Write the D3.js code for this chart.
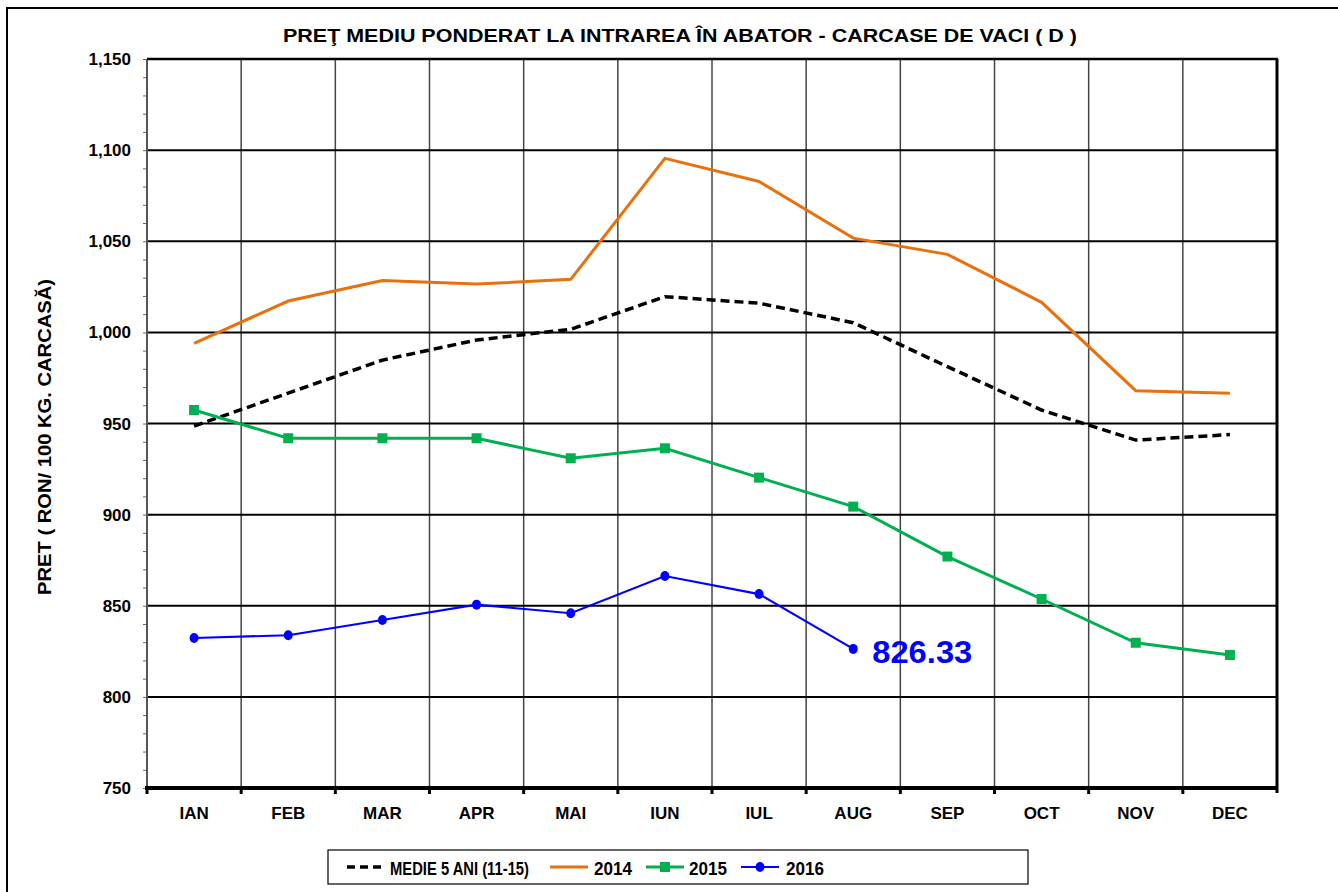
<!DOCTYPE html>
<html lang="en">
<head>
<meta charset="utf-8">
<title>Pret mediu ponderat</title>
<script src="https://d3js.org/d3.v7.min.js"></script>
<style>
  body { margin: 0; background: #fff; }
  text { font-family: "Liberation Sans", Arial, sans-serif; font-weight: bold; fill: #000; }
</style>
</head>
<body>
<div id="chart"></div>
<script>
const w = 1338, h = 892;

const months = ["IAN","FEB","MAR","APR","MAI","IUN","IUL","AUG","SEP","OCT","NOV","DEC"];
const medie5 = [948.6, 966.7, 984.8, 995.8, 1001.7, 1019.6, 1016.0, 1005.3, 981.2, 957.4, 940.9, 943.9];
const y2014  = [994.0, 1017.2, 1028.4, 1026.5, 1029.1, 1095.5, 1082.8, 1051.7, 1042.8, 1016.5, 968.0, 966.6];
const y2015  = [957.4, 941.9, 941.9, 941.9, 930.9, 936.4, 920.3, 904.4, 877.0, 853.7, 829.7, 823.0];
const y2016  = [832.3, 833.8, 842.2, 850.6, 845.9, 866.3, 856.4, 826.33];
const yTicks = [750, 800, 850, 900, 950, 1000, 1050, 1100, 1150];

const m = { left: 147, top: 59, right: 1277, bottom: 788 };

const svg = d3.select("#chart").append("svg")
  .attr("width", w).attr("height", h);

// outer chart border (runs off the picture right and bottom)
svg.append("rect").attr("x", 7).attr("y", 8).attr("width", 1400).attr("height", 1000)
  .attr("fill", "none").attr("stroke", "#000").attr("stroke-width", 2);

const x = d3.scaleBand().domain(months).range([m.left, m.right]);
const y = d3.scaleLinear().domain([750, 1150]).range([m.bottom, m.top]);

// vertical grid at category boundaries
const bounds = months.map(d => x(d)).slice(1);
svg.selectAll(".vgrid").data(bounds).enter().append("line")
  .attr("x1", d => d).attr("x2", d => d)
  .attr("y1", m.top).attr("y2", m.bottom + 5)
  .attr("stroke", "#444").attr("stroke-width", 1.5);

// horizontal grid
svg.selectAll(".hgrid").data(yTicks.slice(1, -1)).enter().append("line")
  .attr("x1", m.left).attr("x2", m.right)
  .attr("y1", d => y(d)).attr("y2", d => y(d))
  .attr("stroke", "#000").attr("stroke-width", 2);

// y axis with minor ticks
const yAxis = d3.axisLeft(y).tickValues(d3.range(750, 1151, 10))
  .tickSize(4).tickFormat("");
const ya = svg.append("g").attr("transform", `translate(${m.left},0)`).call(yAxis);
ya.select(".domain").remove();
ya.selectAll("line").attr("stroke", "#666").attr("stroke-width", 1);
svg.append("line").attr("x1", m.left).attr("x2", m.left)
  .attr("y1", m.top).attr("y2", m.bottom).attr("stroke", "#555").attr("stroke-width", 2);

svg.selectAll(".ylab").data(yTicks).enter().append("text")
  .attr("x", 131).attr("y", d => y(d) + 6)
  .attr("text-anchor", "end").attr("font-size", 17)
  .text(d => d3.format(",")(d));

// frame: top and right
svg.append("line").attr("x1", m.left).attr("x2", m.right + 1)
  .attr("y1", m.top).attr("y2", m.top).attr("stroke", "#000").attr("stroke-width", 2.5);
svg.append("line").attr("x1", m.right).attr("x2", m.right)
  .attr("y1", m.top).attr("y2", m.bottom + 5).attr("stroke", "#000").attr("stroke-width", 3);

// x axis
svg.append("line").attr("x1", m.left - 2).attr("x2", m.right + 1)
  .attr("y1", m.bottom).attr("y2", m.bottom).attr("stroke", "#000").attr("stroke-width", 4);
svg.selectAll(".xtick").data([m.left].concat(bounds)).enter().append("line")
  .attr("x1", d => d).attr("x2", d => d)
  .attr("y1", m.bottom).attr("y2", m.bottom + 6)
  .attr("stroke", "#000").attr("stroke-width", 3);
svg.selectAll(".xlab").data(months).enter().append("text")
  .attr("x", d => x(d) + x.bandwidth() / 2).attr("y", 819)
  .attr("text-anchor", "middle").attr("font-size", 17)
  .text(d => d);

const cx = (d, i) => x(months[i]) + x.bandwidth() / 2;
const line = d3.line().x(cx).y(d => y(d));

svg.append("path").datum(medie5).attr("d", line)
  .attr("fill", "none").attr("stroke", "#000").attr("stroke-width", 3.5)
  .attr("stroke-dasharray", "9,5");
svg.append("path").datum(y2014).attr("d", line)
  .attr("fill", "none").attr("stroke", "#E8710E").attr("stroke-width", 3);
svg.append("path").datum(y2015).attr("d", line)
  .attr("fill", "none").attr("stroke", "#00B050").attr("stroke-width", 3);
svg.selectAll(".m15").data(y2015).enter().append("rect")
  .attr("x", (d, i) => cx(d, i) - 5).attr("y", d => y(d) - 5)
  .attr("width", 10).attr("height", 10).attr("fill", "#00B050");
svg.append("path").datum(y2016).attr("d", line)
  .attr("fill", "none").attr("stroke", "#0000FF").attr("stroke-width", 2.2);
svg.selectAll(".m16").data(y2016).enter().append("ellipse")
  .attr("cx", cx).attr("cy", d => y(d))
  .attr("rx", 4.5).attr("ry", 5).attr("fill", "#0000FF");

// last value label
const last = y2016.length - 1;
svg.append("text")
  .attr("x", cx(y2016[last], last) + 19).attr("y", y(y2016[last]) + 14)
  .attr("font-size", 31).attr("textLength", 100).attr("lengthAdjust", "spacingAndGlyphs")
  .style("fill", "#0000FF")
  .text(d3.format(".2f")(y2016[last]));

// title
svg.append("text").attr("x", 680).attr("y", 42)
  .attr("text-anchor", "middle").attr("font-size", 18)
  .attr("textLength", 794).attr("lengthAdjust", "spacingAndGlyphs")
  .text("PREŢ MEDIU PONDERAT LA INTRAREA ÎN ABATOR - CARCASE DE VACI ( D )");

// y title
svg.append("text")
  .attr("transform", "translate(51,437) rotate(-90)")
  .attr("text-anchor", "middle").attr("font-size", 18)
  .attr("textLength", 316).attr("lengthAdjust", "spacingAndGlyphs")
  .text("PRET ( RON/ 100 KG. CARCASĂ)");

// legend
const lg = svg.append("g");
lg.append("rect").attr("x", 328).attr("y", 850).attr("width", 700).attr("height", 34)
  .attr("fill", "#fff").attr("stroke", "#000").attr("stroke-width", 1.2);
const legendItems = [
  { label: "MEDIE 5 ANI (11-15)", color: "#000", x0: 347, tx: 390, tl: 139, dash: "8,5", mark: null, sw: 3.5 },
  { label: "2014", color: "#E8710E", x0: 550, tx: 594, tl: 38, dash: null, mark: null, sw: 3 },
  { label: "2015", color: "#00B050", x0: 646, tx: 689, tl: 38, dash: null, mark: "sq", sw: 3 },
  { label: "2016", color: "#0000FF", x0: 741, tx: 786, tl: 38, dash: null, mark: "ci", sw: 2.2 }
];
legendItems.forEach(it => {
  lg.append("line").attr("x1", it.x0).attr("x2", it.x0 + 38)
    .attr("y1", 867).attr("y2", 867)
    .attr("stroke", it.color).attr("stroke-width", it.sw)
    .attr("stroke-dasharray", it.dash);
  if (it.mark === "sq") lg.append("rect").attr("x", it.x0 + 14).attr("y", 862)
    .attr("width", 10).attr("height", 10).attr("fill", it.color);
  if (it.mark === "ci") lg.append("ellipse").attr("cx", it.x0 + 19).attr("cy", 867)
    .attr("rx", 4.5).attr("ry", 5).attr("fill", it.color);
  lg.append("text").attr("x", it.tx).attr("y", 874.5).attr("font-size", 19)
    .attr("textLength", it.tl).attr("lengthAdjust", "spacingAndGlyphs")
    .text(it.label);
});
</script>
</body>
</html>
